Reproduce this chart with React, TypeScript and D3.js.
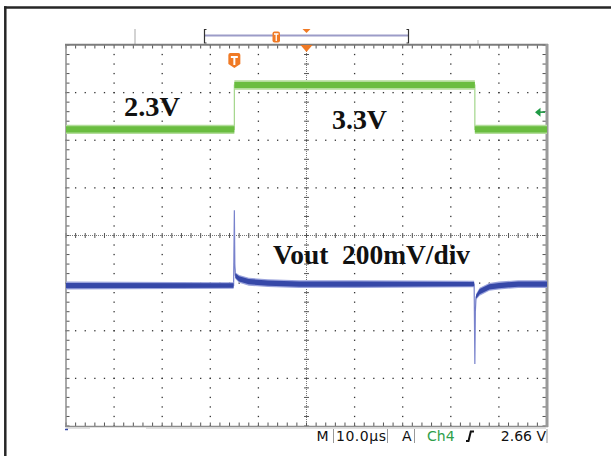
import React from "react";
import * as d3 from "d3";

// ---- data ----
const timeDomain = [-35, 65]; // µs, 10 µs/div, trigger at 0
const divDomain = [-4, 4]; // vertical divisions
const timeDivs = [0, 1, 2, 3, 4, 5, 6, 7, 8, 9, 10];
const vertDivs = [0, 1, 2, 3, 4, 5, 6, 7, 8];

// green: input step 2.3V -> 3.3V -> 2.3V (divisions)
const greenT = [-35, 0, 0, 50, 50, 65];
const greenV = [2.23, 2.23, 3.16, 3.16, 2.23, 2.23];
const greenNoise = [0.065, 0.065, 0.065, 0.065, 0.065, 0.065];

// blue: Vout, 200mV/div (divisions)
const blueT = [-35, -0.15, 0, 0.1, 0.2, 1, 3, 7, 13.5, 25, 49.85, 50, 50.1, 50.25, 51, 53, 55, 59, 65];
const blueV = [-1.05, -1.05, 0.53, -0.6, -0.84, -0.91, -0.97, -1.0, -1.02, -1.02, -1.02, -2.7, -1.6, -1.29, -1.18, -1.08, -1.05, -1.02, -1.02];
const blueNoise = [0.055, 0.045, 0, 0.01, 0.045, 0.055, 0.055, 0.055, 0.055, 0.055, 0.045, 0, 0.01, 0.04, 0.055, 0.055, 0.055, 0.055, 0.055];

const trigLevelDiv = 2.59;
const labelLow = "2.3V";
const labelHigh = "3.3V";
const labelVout = "Vout  200mV/div";
const timebase = "10.0µs";
const trigSource = "Ch4";
const trigLevel = "2.66 V";

export default function App() {
  const x = d3.scaleLinear().domain(timeDomain).range([66, 547]);
  const y = d3.scaleLinear().domain(divDomain).range([426, 45]);
  const xd = d3.scaleLinear().domain([0, 10]).range([66, 547]);
  const yd = d3.scaleLinear().domain([0, 8]).range([426, 45]);

  const dots: JSX.Element[] = [];
  timeDivs.slice(1, -1).forEach((k) => {
    if (k === 5) return;
    for (let j = 0; j <= 40; j++) {
      dots.push(<rect key={`v${k}-${j}`} x={xd(k) - 0.65} y={yd(j * 0.2) - 0.65} width={1.3} height={1.3} fill="#333" />);
    }
  });
  vertDivs.slice(1, -1).forEach((k) => {
    if (k === 4) return;
    for (let j = 0; j <= 50; j++) {
      dots.push(<rect key={`h${k}-${j}`} x={xd(j * 0.2) - 0.65} y={yd(k) - 0.65} width={1.3} height={1.3} fill="#333" />);
    }
  });

  const ticks: JSX.Element[] = [];
  const cx = xd(5), cy = yd(4);
  for (let j = 0; j <= 50; j++) {
    const px = xd(j * 0.2);
    ticks.push(<line key={`ct${j}`} x1={px} x2={px} y1={cy - 2.5} y2={cy + 2.5} stroke="#555" strokeWidth={1} />);
    ticks.push(<line key={`tt${j}`} x1={px} x2={px} y1={45} y2={48.5} stroke="#555" strokeWidth={1} />);
    ticks.push(<line key={`bt${j}`} x1={px} x2={px} y1={422.5} y2={426} stroke="#555" strokeWidth={1} />);
  }
  for (let j = 0; j <= 40; j++) {
    const py = yd(j * 0.2);
    ticks.push(<line key={`cv${j}`} x1={cx - 2.5} x2={cx + 2.5} y1={py} y2={py} stroke="#555" strokeWidth={1} />);
    ticks.push(<line key={`lt${j}`} x1={66} x2={69.5} y1={py} y2={py} stroke="#555" strokeWidth={1} />);
    ticks.push(<line key={`rt${j}`} x1={542.5} x2={546} y1={py} y2={py} stroke="#555" strokeWidth={1} />);
  }

  const idxG = greenT.map((_, i) => i);
  const idxB = blueT.map((_, i) => i);
  const areaG = (s: number) =>
    d3.area<number>().x((i) => x(greenT[i])).y0((i) => y(greenV[i] - greenNoise[i] * s)).y1((i) => y(greenV[i] + greenNoise[i] * s))(idxG) || "";
  const lineG = d3.line<number>().x((i) => x(greenT[i])).y((i) => y(greenV[i]))(idxG) || "";
  const areaB = (s: number) =>
    d3.area<number>().x((i) => x(blueT[i])).y0((i) => y(blueV[i] - blueNoise[i] * s)).y1((i) => y(blueV[i] + blueNoise[i] * s))(idxB) || "";
  const lineB = d3.line<number>().x((i) => x(blueT[i])).y((i) => y(blueV[i]))(idxB) || "";

  const tx = x(0);
  const tl = y(trigLevelDiv);
  const serif = "'Liberation Serif', 'Times New Roman', serif";
  const sans = "'DejaVu Sans', Verdana, sans-serif";

  return (
    <svg width={611} height={456} style={{ position: "absolute", left: 0, top: 0, background: "#fff" }}>
      {/* outer frame */}
      <line x1={4} x2={611} y1={7.5} y2={7.5} stroke="#262626" strokeWidth={2.5} />
      <line x1={5.3} x2={5.3} y1={6.3} y2={456} stroke="#262626" strokeWidth={2.5} />

      {/* record bar */}
      <line x1={135} x2={135} y1={29} y2={44} stroke="#c4c4c4" strokeWidth={1.5} />
      <line x1={478} x2={478} y1={40} y2={44} stroke="#d0d0d0" strokeWidth={1.5} />
      <line x1={204} x2={409} y1={35.5} y2={35.5} stroke="#9c9cc8" strokeWidth={2} />
      <path d="M206.5,29.5 H204.5 V43 H206.5" fill="none" stroke="#333" strokeWidth={1.2} />
      <path d="M406.5,29.5 H408.5 V43 H406.5" fill="none" stroke="#333" strokeWidth={1.2} />
      <rect x={272.5} y={31.5} width={7.5} height={11} rx={2} fill="#f07a25" />
      <path d="M274,34 H278.5 M276.25,34 V41" stroke="#fff" strokeWidth={1.3} />
      <path d={`M${x(15) - 4},29 L${x(15) + 4},29 L${x(15)},33 Z`} fill="#f07a25" />

      {/* grid */}
      {dots}
      <line x1={66} x2={547} y1={cy} y2={cy} stroke="#777" strokeWidth={1} strokeDasharray="1 1" />
      <line x1={cx} x2={cx} y1={45} y2={426} stroke="#777" strokeWidth={1} strokeDasharray="1 1" />
      {ticks}

      {/* plot border */}
      <line x1={66} x2={66} y1={44} y2={427} stroke="#8c8c8c" strokeWidth={1.5} />
      <line x1={65} x2={548} y1={426.5} y2={426.5} stroke="#8c8c8c" strokeWidth={1.5} />
      <line x1={65} x2={548} y1={44.8} y2={44.8} stroke="#7c7c7c" strokeWidth={2} />
      <line x1={547} x2={547} y1={44} y2={427} stroke="#9a9a9a" strokeWidth={3} />
      <line x1={146} x2={546} y1={428} y2={428} stroke="#d6d6d6" strokeWidth={1.5} />
      <line x1={66} x2={90} y1={428} y2={428} stroke="#d6d6d6" strokeWidth={1.5} />
      <line x1={65} x2={68} y1={429.5} y2={429.5} stroke="#3548a6" strokeWidth={1.5} />

      {/* center expansion marker */}
      <path d={`M${x(15) - 6},45 L${x(15) + 6},45 L${x(15)},52 Z`} fill="#f07a25" />

      {/* traces */}
      <path d={lineG} fill="none" stroke="#a3d68a" strokeWidth={1.2} />
      <path d={areaG(1.5)} fill="#b3dd9b" />
      <path d={areaG(1)} fill="#6abd40" />
      <path d={lineB} fill="none" stroke="#7882cc" strokeWidth={1.2} />
      <path d={areaB(1.5)} fill="#9aa3dc" />
      <path d={areaB(1)} fill="#3648a8" />

      {/* trigger marker */}
      <path d={`M${tx - 6},55 Q${tx - 6},53 ${tx - 4},53 H${tx + 4} Q${tx + 6},53 ${tx + 6},55 V64 L${tx},68 L${tx - 6},64 Z`} fill="#f07a25" />
      <path d={`M${tx - 3.5},57 H${tx + 3.5} M${tx},57 V65`} stroke="#fff" strokeWidth={2} />

      {/* trigger level arrow */}
      <path d={`M${535},${tl} L${540.5},${tl - 4.5} L${540.5},${tl + 4.5} Z`} fill="#1f9a45" />
      <line x1={540} x2={545} y1={tl} y2={tl} stroke="#1f9a45" strokeWidth={1.6} />

      {/* labels */}
      <text x={124} y={116} fontFamily={serif} fontWeight="bold" fontSize={27} textLength={56} lengthAdjust="spacingAndGlyphs" fill="#111">{labelLow}</text>
      <text x={332} y={129} fontFamily={serif} fontWeight="bold" fontSize={27} textLength={55} lengthAdjust="spacingAndGlyphs" fill="#111">{labelHigh}</text>
      <text x={273} y={264} fontFamily={serif} fontWeight="bold" fontSize={27} textLength={197} lengthAdjust="spacingAndGlyphs" fill="#111" style={{ whiteSpace: "pre" }}>{labelVout}</text>

      {/* bottom readout */}
      <text x={316.5} y={441} fontFamily={sans} fontSize={14} fill="#111">M</text>
      <line x1={333.5} x2={333.5} y1={429} y2={443} stroke="#999" strokeWidth={1} />
      <line x1={387.5} x2={387.5} y1={429} y2={443} stroke="#999" strokeWidth={1} />
      <text x={336} y={441} fontFamily={sans} fontSize={14} fill="#111" textLength={50} lengthAdjust="spacing">{timebase}</text>
      <text x={402} y={441} fontFamily={sans} fontSize={14} fill="#111">A</text>
      <line x1={414.5} x2={414.5} y1={429} y2={443} stroke="#999" strokeWidth={1} />
      <line x1={547} x2={547} y1={429} y2={443} stroke="#999" strokeWidth={1} />
      <text x={427} y={441} fontFamily={sans} fontSize={14} fill="#2e9e4a">{trigSource}</text>
      <path d="M466,441 H468.5 L470.8,431.5 H474" fill="none" stroke="#111" strokeWidth={2} />
      <text x={546} y={441} fontFamily={sans} fontSize={14} fill="#111" textAnchor="end">{trigLevel}</text>
    </svg>
  );
}
